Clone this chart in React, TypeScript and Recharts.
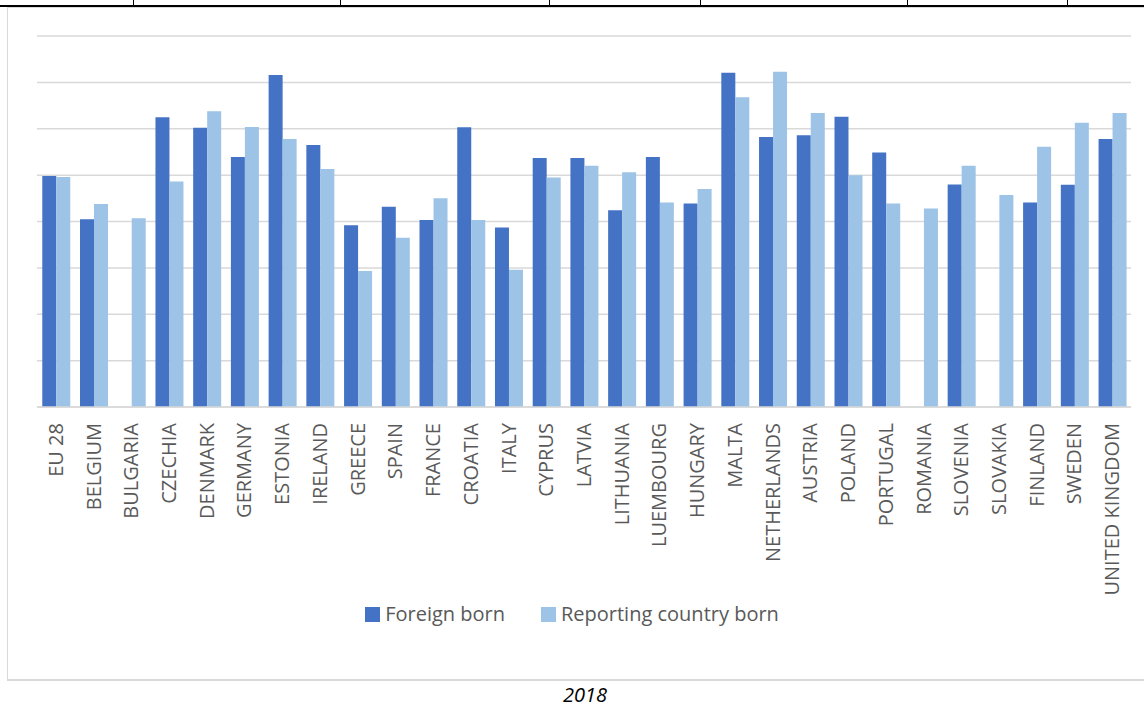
import React from "react";
import { BarChart, Bar, XAxis, YAxis, CartesianGrid, Legend } from "recharts";

const countries = [
  "EU 28", "BELGIUM", "BULGARIA", "CZECHIA", "DENMARK", "GERMANY", "ESTONIA", "IRELAND",
  "GREECE", "SPAIN", "FRANCE", "CROATIA", "ITALY", "CYPRUS", "LATVIA", "LITHUANIA",
  "LUEMBOURG", "HUNGARY", "MALTA", "NETHERLANDS", "AUSTRIA", "POLAND", "PORTUGAL",
  "ROMANIA", "SLOVENIA", "SLOVAKIA", "FINLAND", "SWEDEN", "UNITED KINGDOM",
];

const foreignBorn: (number | null)[] = [
  49.8, 40.5, null, 62.5, 60.2, 53.9, 71.6, 56.5, 39.2, 43.2, 40.3, 60.3, 38.7, 53.7, 53.7,
  42.4, 53.9, 43.9, 72.1, 58.2, 58.6, 62.6, 54.9, null, 48.0, null, 44.1, 47.9, 57.8,
];

const reportingBorn: number[] = [
  49.6, 43.8, 40.7, 48.6, 63.8, 60.4, 57.8, 51.3, 29.3, 36.5, 45.0, 40.3, 29.6, 49.5, 52.0,
  50.6, 44.1, 47.0, 66.8, 72.3, 63.4, 50.0, 43.9, 42.8, 52.0, 45.7, 56.1, 61.3, 63.4,
];

const yTicks = [0, 10, 20, 30, 40, 50, 60, 70, 80];
const tableCols = [133, 340, 549, 700, 907, 1067];

const data = countries.map((c, i) => ({
  name: c,
  foreign: foreignBorn[i],
  reporting: reportingBorn[i],
}));

const FONT = "'Open Sans', 'Noto Sans', sans-serif";

function RotTick(props: any) {
  const { x, y, payload } = props;
  return (
    <text
      x={0}
      y={0}
      transform={`translate(${x + 7},${y + 8}) rotate(-90)`}
      textAnchor="end"
      fill="#595959"
      fontSize={20}
      fontFamily={FONT}
    >
      {payload.value}
    </text>
  );
}

function LegendBox() {
  const items = [
    { label: "Foreign born", color: "#4472C4" },
    { label: "Reporting country born", color: "#9DC3E6" },
  ];
  return (
    <div style={{ display: "flex", justifyContent: "center", fontFamily: FONT, fontSize: 20, color: "#595959", lineHeight: "28px" }}>
      {items.map((it, i) => (
        <div key={it.label} style={{ display: "flex", alignItems: "center", marginRight: i === 0 ? 36 : 0 }}>
          <span style={{ width: 15, height: 15, background: it.color, display: "inline-block", marginRight: 5 }} />
          <span>{it.label}</span>
        </div>
      ))}
    </div>
  );
}

export default function App() {
  return (
    <div style={{ position: "absolute", left: 0, top: 0, width: 1144, height: 707, overflow: "hidden", background: "#fff" }}>
      {/* fragment of the table above */}
      <div style={{ position: "absolute", left: 0, top: 5, width: 1144, height: 2, background: "#000" }} />
      {tableCols.map((x) => (
        <div key={x} style={{ position: "absolute", left: x, top: 0, width: 1, height: 6, background: "#000" }} />
      ))}
      {/* chart frame */}
      <div style={{ position: "absolute", left: 7, top: 7, width: 1150, height: 671, border: "1px solid #d9d9d9", borderBottomWidth: 2 }} />
      <div style={{ position: "absolute", left: 0, top: 0 }}>
        <BarChart
          width={1144}
          height={680}
          data={data}
          margin={{ top: 36, right: 13, bottom: 0, left: 37 }}
          barCategoryGap="14%"
          barGap={0}
        >
          <CartesianGrid vertical={false} stroke="#d9d9d9" strokeWidth={1.5} />
          <YAxis hide domain={[0, 80]} ticks={yTicks} />
          <XAxis
            dataKey="name"
            interval={0}
            height={273}
            tick={<RotTick />}
            tickLine={false}
            axisLine={{ stroke: "#d9d9d9", strokeWidth: 1.5 }}
          />
          <Legend
            verticalAlign="middle"
            align="center"
            layout="horizontal"
            content={<LegendBox />}
            wrapperStyle={{ top: 600, left: 0, width: 1144 }}
          />
          <Bar dataKey="foreign" name="Foreign born" fill="#4472C4" isAnimationActive={false} />
          <Bar dataKey="reporting" name="Reporting country born" fill="#9DC3E6" isAnimationActive={false} />
        </BarChart>
      </div>
      <div
        style={{
          position: "absolute",
          left: 555,
          width: 60,
          top: 684,
          textAlign: "center",
          fontFamily: FONT,
          fontStyle: "italic",
          fontSize: 20,
          lineHeight: "22px",
          color: "#000",
        }}
      >
        2018
      </div>
    </div>
  );
}
